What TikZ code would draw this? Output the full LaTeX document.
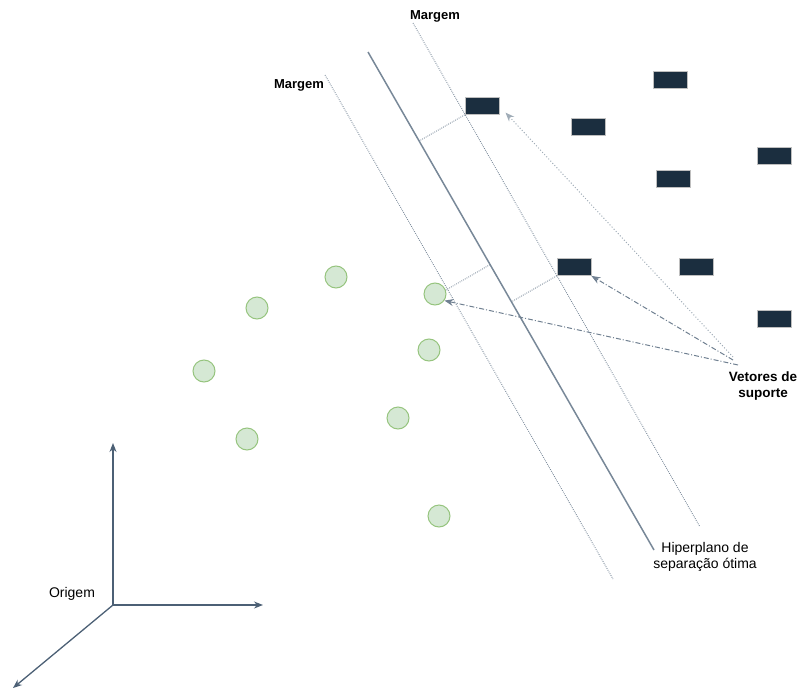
\documentclass[tikz,border=0pt]{standalone}
\usepackage{fontspec}
\setmainfont{Liberation Sans}
\usetikzlibrary{arrows.meta,calc}

\definecolor{verdeclaro}{RGB}{213,232,212}
\definecolor{verde}{RGB}{150,196,126}
\definecolor{azulescuro}{RGB}{27,46,63}
\definecolor{ardosia}{RGB}{76,96,117}
\definecolor{linha}{RGB}{120,136,152}

\begin{document}
\begin{tikzpicture}[x=1pt, y=-1pt, font=\fontsize{14}{16}\selectfont,
  ponto/.style={circle, minimum size=22pt, inner sep=0pt, fill=verdeclaro, draw=verde, line width=1pt},
  bloco/.style={rectangle, minimum width=34pt, minimum height=17pt, inner sep=0pt, fill=azulescuro, draw=black!25, line width=0.8pt},
  margem/.style={draw=linha, line width=0.9pt, dash pattern=on 0.8pt off 1.2pt},
  eixo/.style={draw=ardosia, line width=1.3pt, -{Stealth[length=9pt,width=7pt]}},
  suporte/.style={draw=ardosia!80, line width=1pt, dash pattern=on 5pt off 2pt on 1pt off 2pt, -{Stealth[length=9pt,width=7pt]}},
  rotulo/.style={align=center, inner sep=0pt}]

\useasboundingbox (0,0) rectangle (799,695);

\coordinate (h1) at (368,52);
\coordinate (h2) at (654,550);
\coordinate (ma1) at (325,75);
\coordinate (mb1) at (613,579);
\coordinate (ma2) at (413,23);
\coordinate (mb2) at (700,527);

\draw[margem] (ma1) -- (mb1);
\draw[margem] (ma2) -- (mb2);
\draw[draw=linha, line width=1.5pt] (h1) -- (h2);

\node[rotulo, font=\fontsize{13}{15}\selectfont\bfseries] (m1) at (299,85) {Margem};
\node[rotulo, font=\fontsize{13}{15}\selectfont\bfseries] (m2) at (435,16) {Margem};
\node[rotulo] (hip) at (705,557) {Hiperplano de\\separação ótima};
\node[rotulo, font=\fontsize{13.5}{16}\selectfont\bfseries] (vs) at (763,386) {Vetores de\\suporte};
\node[rotulo] (orig) at (72,594) {Origem};

\node[ponto] (c1) at (336,277) {};
\node[ponto] (c2) at (257,308) {};
\node[ponto] (c3) at (204,371) {};
\node[ponto] (c4) at (247,439) {};
\node[ponto] (c5) at (435,294) {};
\node[ponto] (c6) at (429,350) {};
\node[ponto] (c7) at (398,418) {};
\node[ponto] (c8) at (439,516) {};

\node[bloco] (r1) at (482,106) {};
\node[bloco] (r2) at (670,80) {};
\node[bloco] (r3) at (588,127) {};
\node[bloco] (r4) at (774,156) {};
\node[bloco] (r5) at (673,179) {};
\node[bloco] (r6) at (574,267) {};
\node[bloco] (r7) at (696,267) {};
\node[bloco] (r8) at (774,319) {};

\draw[margem] (r1.south west) -- ($(h1)!(r1.south west)!(h2)$);
\draw[margem] (r6.south west) -- ($(h1)!(r6.south west)!(h2)$);
\draw[margem] (c5.20) -- ($(h1)!(c5.20)!(h2)$);

\coordinate (s1) at (733,357);
\coordinate (s2) at (733,360);
\coordinate (s3) at (738,365);

\draw[suporte, draw=linha!70, dash pattern=on 1pt off 2pt, shorten >=9pt] (s1) -- (r1.east);
\draw[suporte] (s2) -- (r6.south east);
\draw[suporte] (s3) -- (c5.-35);

\coordinate (o) at (113,605);
\coordinate (ex) at (263,605);
\coordinate (ey) at (113,443);
\coordinate (ez) at (13,688);

\draw[eixo] (o) -- (ey);
\draw[eixo] (o) -- (ex);
\draw[eixo] (o) -- (ez);
\end{tikzpicture}
\end{document}
